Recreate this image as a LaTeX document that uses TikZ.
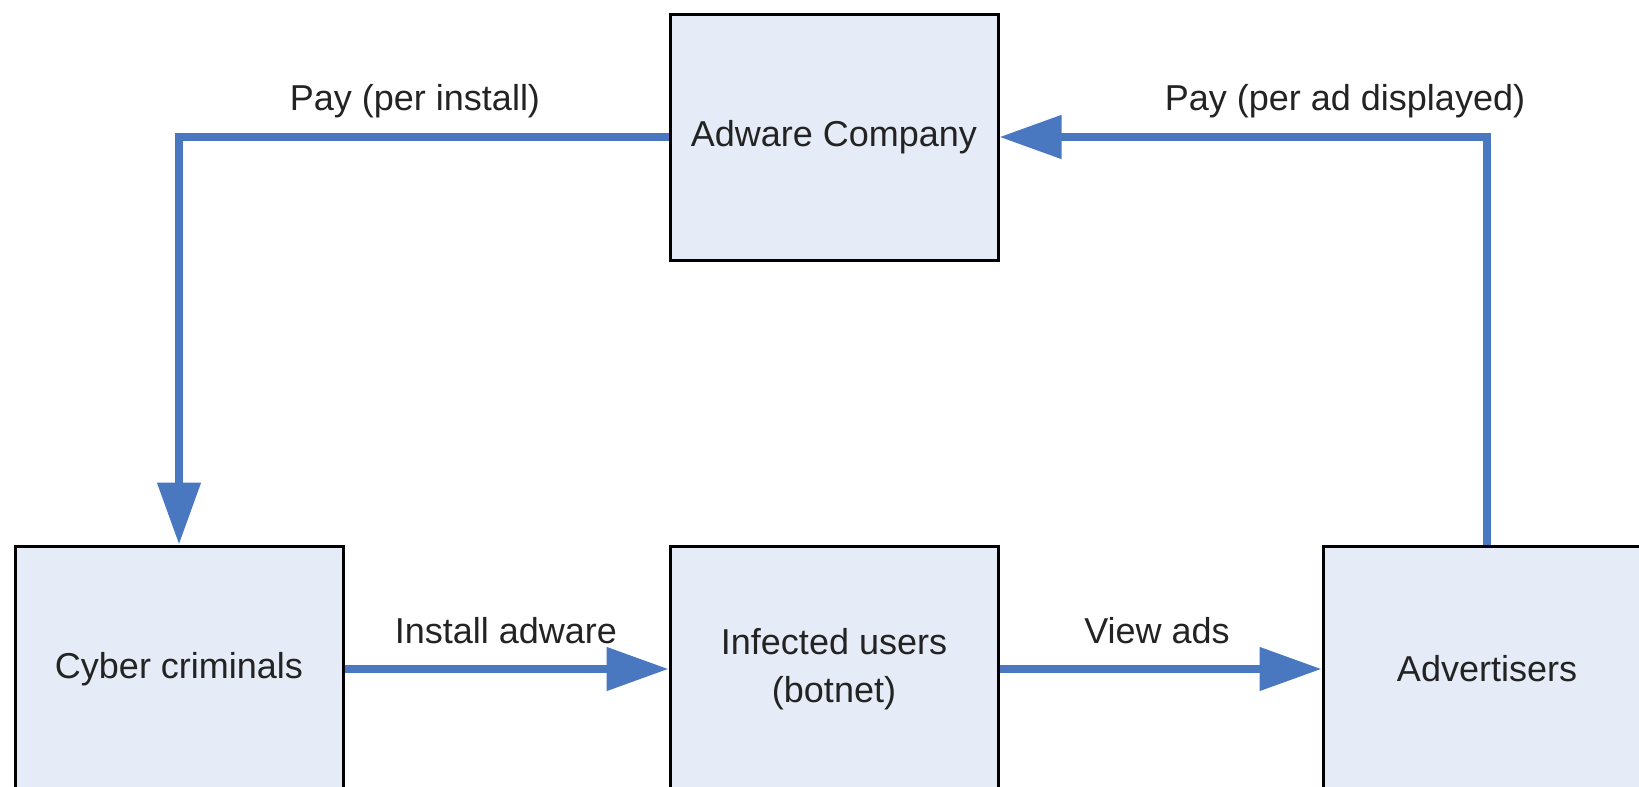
\documentclass[tikz,border=0pt]{standalone}
\usepackage{fontspec}
\setmainfont{Liberation Sans}
\usetikzlibrary{arrows.meta}
\definecolor{flowblue}{RGB}{74,120,192}
\definecolor{boxfill}{RGB}{230,236,247}
\definecolor{ink}{RGB}{35,35,35}
\begin{document}
\begin{tikzpicture}[x=1pt,y=-1pt,
  party/.style={draw=black, line width=3pt, fill=boxfill,
    minimum width=328pt, minimum height=246pt, inner sep=0pt,
    align=center, text=ink, font=\fontsize{36}{48}\selectfont},
  money/.style={draw=flowblue, line width=8pt,
    -{Triangle[length=62pt,width=42pt]}},
  lbl/.style={text=ink, inner sep=0pt, font=\fontsize{36}{43}\selectfont}]
\useasboundingbox (0,0) rectangle (1639,787);
\clip (0,0) rectangle (1639,787);

% the four parties
\node[party] (adware)   at (834,137) {Adware Company};
\node[party] (cyber)    at (179,669) {Cyber criminals};
\node[party] (infected) at (834,669) {Infected users\\(botnet)};
\node[party] (adv)      at (1487,669) {Advertisers};

% flows of money and installs
\draw[money] (adware.west) -| (cyber.north);
\draw[money] (adv.north) |- (adware.east);
\draw[money] (cyber.east) -- (infected.west);
\draw[money] (infected.east) -- (adv.west);

% labels
\node[lbl] (l1) at (415,101) {Pay (per install)};
\node[lbl] (l2) at (1345,101) {Pay (per ad displayed)};
\node[lbl] (l3) at (506,631) {Install adware};
\node[lbl] (l4) at (1157,631) {View ads};
\end{tikzpicture}
\end{document}
